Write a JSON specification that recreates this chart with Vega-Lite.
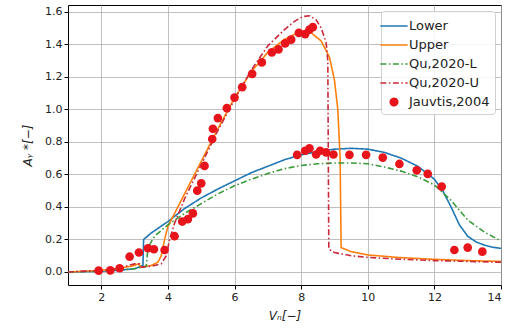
{
  "$schema": "https://vega.github.io/schema/vega-lite/v6.json",
  "autosize": {"type": "none"},
  "padding": {"left": 68, "top": 5, "right": 18, "bottom": 49},
  "width": 433,
  "height": 280,
  "background": "white",
  "config": {
    "font": "DejaVu Sans",
    "view": {"stroke": "black", "strokeWidth": 1},
    "axis": {
      "labelFont": "DejaVu Sans", "labelFontSize": 11, "labelColor": "#222",
      "titleFont": "DejaVu Sans", "titleFontSize": 12, "titleFontWeight": "normal", "titleColor": "#222",
      "grid": true, "gridColor": "#b0b0b0", "gridWidth": 0.8,
      "domain": false, "tickColor": "black", "tickSize": 4, "labelPadding": 2
    },
    "legend": {
      "labelFont": "DejaVu Sans", "labelFontSize": 13, "labelColor": "#222",
      "strokeColor": "#d0d0d0", "fillColor": "rgba(255,255,255,0.85)", "cornerRadius": 3,
      "padding": 5, "rowPadding": 2, "symbolSize": 256, "symbolStrokeWidth": 1.6,
      "symbolOffset": -2, "labelOffset": 5
    }
  },
  "datasets": {
    "curves": [
      {"s": "Lower", "x": 1, "y": 0.0}, {"s": "Lower", "x": 2, "y": 0.005}, {"s": "Lower", "x": 2.5, "y": 0.01},
      {"s": "Lower", "x": 3, "y": 0.02}, {"s": "Lower", "x": 3.25, "y": 0.04}, {"s": "Lower", "x": 3.27, "y": 0.2},
      {"s": "Lower", "x": 3.5, "y": 0.24}, {"s": "Lower", "x": 4, "y": 0.31}, {"s": "Lower", "x": 4.5, "y": 0.39},
      {"s": "Lower", "x": 5, "y": 0.455}, {"s": "Lower", "x": 5.5, "y": 0.51}, {"s": "Lower", "x": 6, "y": 0.56},
      {"s": "Lower", "x": 6.5, "y": 0.61}, {"s": "Lower", "x": 7, "y": 0.65}, {"s": "Lower", "x": 7.5, "y": 0.69},
      {"s": "Lower", "x": 8, "y": 0.72}, {"s": "Lower", "x": 8.5, "y": 0.74}, {"s": "Lower", "x": 9, "y": 0.755},
      {"s": "Lower", "x": 9.5, "y": 0.76}, {"s": "Lower", "x": 10, "y": 0.755}, {"s": "Lower", "x": 10.5, "y": 0.735},
      {"s": "Lower", "x": 11, "y": 0.70}, {"s": "Lower", "x": 11.5, "y": 0.65}, {"s": "Lower", "x": 12, "y": 0.57},
      {"s": "Lower", "x": 12.25, "y": 0.5}, {"s": "Lower", "x": 12.5, "y": 0.40}, {"s": "Lower", "x": 12.75, "y": 0.29},
      {"s": "Lower", "x": 13, "y": 0.22}, {"s": "Lower", "x": 13.25, "y": 0.185}, {"s": "Lower", "x": 13.5, "y": 0.165},
      {"s": "Lower", "x": 13.75, "y": 0.152}, {"s": "Lower", "x": 14, "y": 0.145},

      {"s": "Upper", "x": 1, "y": 0.0}, {"s": "Upper", "x": 2, "y": 0.01}, {"s": "Upper", "x": 2.5, "y": 0.02},
      {"s": "Upper", "x": 3, "y": 0.04}, {"s": "Upper", "x": 3.1, "y": 0.05}, {"s": "Upper", "x": 3.2, "y": 0.03},
      {"s": "Upper", "x": 3.5, "y": 0.04}, {"s": "Upper", "x": 3.7, "y": 0.06}, {"s": "Upper", "x": 3.8, "y": 0.1},
      {"s": "Upper", "x": 3.9, "y": 0.2}, {"s": "Upper", "x": 4.0, "y": 0.28}, {"s": "Upper", "x": 4.5, "y": 0.48},
      {"s": "Upper", "x": 5, "y": 0.68}, {"s": "Upper", "x": 5.5, "y": 0.88}, {"s": "Upper", "x": 6, "y": 1.07},
      {"s": "Upper", "x": 6.5, "y": 1.23}, {"s": "Upper", "x": 7, "y": 1.35}, {"s": "Upper", "x": 7.5, "y": 1.43},
      {"s": "Upper", "x": 8, "y": 1.48}, {"s": "Upper", "x": 8.3, "y": 1.47}, {"s": "Upper", "x": 8.6, "y": 1.42},
      {"s": "Upper", "x": 8.85, "y": 1.32}, {"s": "Upper", "x": 9.0, "y": 1.18}, {"s": "Upper", "x": 9.1, "y": 1.0},
      {"s": "Upper", "x": 9.17, "y": 0.7}, {"s": "Upper", "x": 9.2, "y": 0.15}, {"s": "Upper", "x": 9.5, "y": 0.125},
      {"s": "Upper", "x": 10, "y": 0.105}, {"s": "Upper", "x": 11, "y": 0.088}, {"s": "Upper", "x": 12, "y": 0.078},
      {"s": "Upper", "x": 13, "y": 0.07}, {"s": "Upper", "x": 14, "y": 0.065},

      {"s": "Qu,2020-L", "x": 1, "y": 0.0}, {"s": "Qu,2020-L", "x": 2, "y": 0.005}, {"s": "Qu,2020-L", "x": 3, "y": 0.02},
      {"s": "Qu,2020-L", "x": 3.35, "y": 0.035}, {"s": "Qu,2020-L", "x": 3.4, "y": 0.15}, {"s": "Qu,2020-L", "x": 3.6, "y": 0.22},
      {"s": "Qu,2020-L", "x": 4, "y": 0.29}, {"s": "Qu,2020-L", "x": 4.5, "y": 0.36}, {"s": "Qu,2020-L", "x": 5, "y": 0.42},
      {"s": "Qu,2020-L", "x": 5.5, "y": 0.48}, {"s": "Qu,2020-L", "x": 6, "y": 0.53}, {"s": "Qu,2020-L", "x": 6.5, "y": 0.57},
      {"s": "Qu,2020-L", "x": 7, "y": 0.605}, {"s": "Qu,2020-L", "x": 7.5, "y": 0.635}, {"s": "Qu,2020-L", "x": 8, "y": 0.655},
      {"s": "Qu,2020-L", "x": 8.5, "y": 0.665}, {"s": "Qu,2020-L", "x": 9, "y": 0.67}, {"s": "Qu,2020-L", "x": 9.5, "y": 0.67},
      {"s": "Qu,2020-L", "x": 10, "y": 0.665}, {"s": "Qu,2020-L", "x": 10.5, "y": 0.645}, {"s": "Qu,2020-L", "x": 11, "y": 0.62},
      {"s": "Qu,2020-L", "x": 11.5, "y": 0.585}, {"s": "Qu,2020-L", "x": 12, "y": 0.535}, {"s": "Qu,2020-L", "x": 12.5, "y": 0.44},
      {"s": "Qu,2020-L", "x": 12.75, "y": 0.38}, {"s": "Qu,2020-L", "x": 13, "y": 0.32}, {"s": "Qu,2020-L", "x": 13.5, "y": 0.245},
      {"s": "Qu,2020-L", "x": 14, "y": 0.19},

      {"s": "Qu,2020-U", "x": 1, "y": 0.0}, {"s": "Qu,2020-U", "x": 2, "y": 0.01}, {"s": "Qu,2020-U", "x": 2.5, "y": 0.02},
      {"s": "Qu,2020-U", "x": 2.8, "y": 0.04}, {"s": "Qu,2020-U", "x": 3.0, "y": 0.05}, {"s": "Qu,2020-U", "x": 3.15, "y": 0.05},
      {"s": "Qu,2020-U", "x": 3.2, "y": 0.03}, {"s": "Qu,2020-U", "x": 3.5, "y": 0.035}, {"s": "Qu,2020-U", "x": 3.8, "y": 0.05},
      {"s": "Qu,2020-U", "x": 3.95, "y": 0.1}, {"s": "Qu,2020-U", "x": 4.05, "y": 0.2}, {"s": "Qu,2020-U", "x": 4.2, "y": 0.3},
      {"s": "Qu,2020-U", "x": 4.5, "y": 0.45}, {"s": "Qu,2020-U", "x": 5, "y": 0.66}, {"s": "Qu,2020-U", "x": 5.5, "y": 0.87},
      {"s": "Qu,2020-U", "x": 6, "y": 1.06}, {"s": "Qu,2020-U", "x": 6.5, "y": 1.24}, {"s": "Qu,2020-U", "x": 7, "y": 1.39},
      {"s": "Qu,2020-U", "x": 7.5, "y": 1.49}, {"s": "Qu,2020-U", "x": 7.8, "y": 1.54}, {"s": "Qu,2020-U", "x": 8.05, "y": 1.57},
      {"s": "Qu,2020-U", "x": 8.25, "y": 1.575}, {"s": "Qu,2020-U", "x": 8.45, "y": 1.55}, {"s": "Qu,2020-U", "x": 8.6, "y": 1.5},
      {"s": "Qu,2020-U", "x": 8.75, "y": 1.41}, {"s": "Qu,2020-U", "x": 8.8, "y": 1.3}, {"s": "Qu,2020-U", "x": 8.83, "y": 0.14},
      {"s": "Qu,2020-U", "x": 9, "y": 0.12}, {"s": "Qu,2020-U", "x": 9.5, "y": 0.10}, {"s": "Qu,2020-U", "x": 10, "y": 0.09},
      {"s": "Qu,2020-U", "x": 11, "y": 0.078}, {"s": "Qu,2020-U", "x": 12, "y": 0.07}, {"s": "Qu,2020-U", "x": 13, "y": 0.065},
      {"s": "Qu,2020-U", "x": 14, "y": 0.06}
    ],
    "points": [
      {"s": "Jauvtis,2004", "x": 1.92, "y": 0.008}, {"s": "Jauvtis,2004", "x": 2.27, "y": 0.01},
      {"s": "Jauvtis,2004", "x": 2.55, "y": 0.023}, {"s": "Jauvtis,2004", "x": 2.85, "y": 0.094},
      {"s": "Jauvtis,2004", "x": 3.13, "y": 0.12}, {"s": "Jauvtis,2004", "x": 3.40, "y": 0.146},
      {"s": "Jauvtis,2004", "x": 3.58, "y": 0.14}, {"s": "Jauvtis,2004", "x": 3.90, "y": 0.135},
      {"s": "Jauvtis,2004", "x": 4.20, "y": 0.22}, {"s": "Jauvtis,2004", "x": 4.43, "y": 0.31},
      {"s": "Jauvtis,2004", "x": 4.60, "y": 0.325}, {"s": "Jauvtis,2004", "x": 4.75, "y": 0.36},
      {"s": "Jauvtis,2004", "x": 4.88, "y": 0.50}, {"s": "Jauvtis,2004", "x": 5.00, "y": 0.545},
      {"s": "Jauvtis,2004", "x": 5.10, "y": 0.652}, {"s": "Jauvtis,2004", "x": 5.33, "y": 0.817},
      {"s": "Jauvtis,2004", "x": 5.35, "y": 0.88}, {"s": "Jauvtis,2004", "x": 5.50, "y": 0.946},
      {"s": "Jauvtis,2004", "x": 5.77, "y": 1.007}, {"s": "Jauvtis,2004", "x": 6.00, "y": 1.072},
      {"s": "Jauvtis,2004", "x": 6.23, "y": 1.136}, {"s": "Jauvtis,2004", "x": 6.53, "y": 1.218},
      {"s": "Jauvtis,2004", "x": 6.82, "y": 1.288}, {"s": "Jauvtis,2004", "x": 7.12, "y": 1.35},
      {"s": "Jauvtis,2004", "x": 7.32, "y": 1.368}, {"s": "Jauvtis,2004", "x": 7.52, "y": 1.405},
      {"s": "Jauvtis,2004", "x": 7.70, "y": 1.428}, {"s": "Jauvtis,2004", "x": 7.93, "y": 1.47},
      {"s": "Jauvtis,2004", "x": 8.12, "y": 1.462}, {"s": "Jauvtis,2004", "x": 8.25, "y": 1.49},
      {"s": "Jauvtis,2004", "x": 8.35, "y": 1.505},
      {"s": "Jauvtis,2004", "x": 7.88, "y": 0.72}, {"s": "Jauvtis,2004", "x": 8.12, "y": 0.745},
      {"s": "Jauvtis,2004", "x": 8.25, "y": 0.76}, {"s": "Jauvtis,2004", "x": 8.45, "y": 0.722},
      {"s": "Jauvtis,2004", "x": 8.57, "y": 0.745}, {"s": "Jauvtis,2004", "x": 8.75, "y": 0.735},
      {"s": "Jauvtis,2004", "x": 8.97, "y": 0.722}, {"s": "Jauvtis,2004", "x": 9.45, "y": 0.72},
      {"s": "Jauvtis,2004", "x": 9.95, "y": 0.72}, {"s": "Jauvtis,2004", "x": 10.45, "y": 0.703},
      {"s": "Jauvtis,2004", "x": 10.95, "y": 0.664}, {"s": "Jauvtis,2004", "x": 11.47, "y": 0.625},
      {"s": "Jauvtis,2004", "x": 11.8, "y": 0.603}, {"s": "Jauvtis,2004", "x": 12.22, "y": 0.525},
      {"s": "Jauvtis,2004", "x": 12.6, "y": 0.135}, {"s": "Jauvtis,2004", "x": 13.0, "y": 0.15},
      {"s": "Jauvtis,2004", "x": 13.44, "y": 0.125}
    ]
  },
  "encoding": {
    "x": {"field": "x", "type": "quantitative",
      "scale": {"domain": [1, 14], "nice": false, "zero": false},
      "axis": {"values": [2, 4, 6, 8, 10, 12, 14], "format": "d", "title": "Vₙ[−]", "titleFontStyle": "italic", "titlePadding": 8}},
    "y": {"field": "y", "type": "quantitative",
      "scale": {"domain": [-0.08, 1.641], "nice": false, "zero": false},
      "axis": {"values": [0, 0.2, 0.4, 0.6, 0.8, 1.0, 1.2, 1.4, 1.6], "format": ".1f", "title": "Aᵧ *[−]", "titleFontStyle": "italic", "titlePadding": 10}},
    "color": {"field": "s", "type": "nominal",
      "scale": {"domain": ["Lower", "Upper", "Qu,2020-L", "Qu,2020-U", "Jauvtis,2004"],
                "range": ["#1f77b4", "#ff7f0e", "#3a9a3a", "#c8283a", "#e8141b"]},
      "legend": {"title": null, "orient": "top-right", "offset": 6,
        "encode": {"symbols": {"update": {
          "shape": {"signal": "datum.value === 'Jauvtis,2004' ? 'circle' : 'M-1.5,0H1.5'"},
          "fill": {"signal": "datum.value === 'Jauvtis,2004' ? '#e8141b' : 'transparent'"},
          "size": {"signal": "datum.value === 'Jauvtis,2004' ? 55 : 330"},
          "strokeDash": {"signal": "(datum.value === 'Qu,2020-L' || datum.value === 'Qu,2020-U') ? [6, 2.5, 1.5, 2.5] : [1, 0]"}
        }}}}}
  },
  "layer": [
    {
      "data": {"name": "curves"},
      "mark": {"type": "line", "strokeWidth": 1.6},
      "encoding": {
        "strokeDash": {"field": "s", "type": "nominal",
          "scale": {"domain": ["Lower", "Upper", "Qu,2020-L", "Qu,2020-U"],
                    "range": [[1, 0], [1, 0], [6, 2.5, 1.5, 2.5], [6, 2.5, 1.5, 2.5]]},
          "legend": null}
      }
    },
    {
      "data": {"name": "points"},
      "mark": {"type": "point", "filled": true, "opacity": 1, "size": 75}
    }
  ]
}
